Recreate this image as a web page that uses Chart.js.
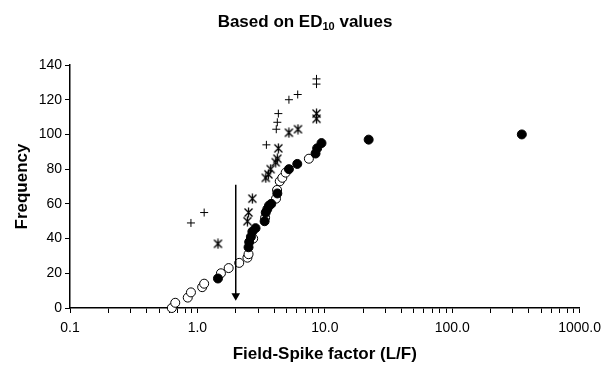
<!DOCTYPE html>
<html>
<head>
<meta charset="utf-8">
<script src="https://cdn.jsdelivr.net/npm/chart.js@4"></script>
<style>
  html, body { margin: 0; padding: 0; background: #fff; }
  #wrap { width: 608px; height: 365px; position: relative; }
</style>
</head>
<body>
<div id="wrap"><canvas id="myChart" width="608" height="365"></canvas></div>
<script>
// open circles
const openX = [0.63, 0.67, 0.84, 0.89, 1.09, 1.13, 1.53, 1.76, 2.13, 2.47, 2.52, 2.74, 3.40, 4.14, 4.22, 4.43, 4.64, 4.93, 7.5];
const openY = [0, 3, 6, 9, 12, 14, 20, 23, 26, 29, 31, 40, 52, 63, 68, 73, 75, 78, 86];
// filled circles
const filledX = [1.45, 2.52, 2.55, 2.63, 2.70, 2.86, 3.37, 3.44, 3.54, 3.65, 3.80, 4.24, 5.23, 6.08, 8.46, 8.71, 9.42, 22.1, 352];
const filledY = [17, 35, 38, 41, 44, 46, 50, 55, 57, 59, 60, 66, 80, 83, 89, 92, 95, 97, 100];
// plus markers
const plusX = [0.89, 1.13, 3.48, 4.16, 4.24, 4.32, 5.23, 6.13, 8.61, 8.61];
const plusY = [49, 55, 94, 103, 107, 112, 120, 123, 129, 132];
// star markers
const starX = [1.45, 2.47, 2.52, 2.70, 3.44, 3.61, 3.76, 4.12, 4.24, 4.32, 5.23, 6.16, 8.61, 8.61];
const starY = [37, 50, 55, 63, 75, 77, 80, 84, 86, 92, 101, 103, 109, 112];
// arrow at factor 2
const arrowX = [2, 2];
const arrowY = [71, 7];

const yTicks = [0, 20, 40, 60, 80, 100, 120, 140];

const FONT = "'Liberation Sans', Arial, sans-serif";

function toPoints(xs, ys) {
    return xs.map((x, i) => ({ x: x, y: ys[i] }));
}

// excel-like star: an X with a vertical bar
function makeStar() {
    const c = document.createElement("canvas");
    c.width = 11; c.height = 11;
    const g = c.getContext("2d");
    g.strokeStyle = "#000";
    g.lineWidth = 1.3;
    g.beginPath();
    g.moveTo(1.5, 1.5); g.lineTo(9.5, 9.5);
    g.moveTo(9.5, 1.5); g.lineTo(1.5, 9.5);
    g.moveTo(5.5, 0.5); g.lineTo(5.5, 10.5);
    g.stroke();
    return c;
}

const titlePlugin = {
    id: "subTitle",
    afterDraw(chart) {
        const ctx = chart.ctx;
        ctx.save();
        ctx.fillStyle = "#000";
        ctx.textBaseline = "alphabetic";
        const big = "bold 17px " + FONT;
        const small = "bold 11px " + FONT;
        ctx.font = big;
        const w1 = ctx.measureText("Based on ED").width;
        const w3 = ctx.measureText(" values").width;
        ctx.font = small;
        const w2 = ctx.measureText("10").width;
        let x = 305 - (w1 + w2 + w3) / 2;
        const y = 27;
        ctx.font = big;
        ctx.fillText("Based on ED", x, y);
        x += w1;
        ctx.font = small;
        ctx.fillText("10", x, y + 3);
        x += w2;
        ctx.font = big;
        ctx.fillText(" values", x, y);
        ctx.restore();
    }
};

const ctx = document.getElementById("myChart");
let chart = new Chart(ctx, {
    type: "scatter",
    data: {
        datasets: [
            {
                label: "arrow",
                type: "line",
                data: toPoints(arrowX, arrowY),
                borderColor: "#000",
                backgroundColor: "#000",
                borderWidth: 1.5,
                pointRadius: [0, 5],
                pointStyle: "triangle",
                pointRotation: 180,
                pointBorderWidth: 0,
                clip: false
            },
            {
                label: "plus",
                data: toPoints(plusX, plusY),
                pointStyle: "cross",
                pointRadius: 4,
                borderColor: "#000",
                borderWidth: 1,
                clip: false
            },
            {
                label: "star",
                data: toPoints(starX, starY),
                pointStyle: makeStar(),
                pointRadius: 5,
                clip: false
            },
            {
                label: "filled",
                data: toPoints(filledX, filledY),
                pointStyle: "circle",
                pointRadius: 4.5,
                backgroundColor: "#000",
                borderColor: "#000",
                borderWidth: 1,
                clip: false
            },
            {
                label: "open",
                data: toPoints(openX, openY),
                pointStyle: "circle",
                pointRadius: 4.5,
                backgroundColor: "#fff",
                borderColor: "#000",
                borderWidth: 1,
                clip: false
            }
        ]
    },
    options: {
        responsive: false,
        animation: false,
        devicePixelRatio: 1,
        layout: { padding: { left: 0, right: 26, top: 65, bottom: 0 } },
        plugins: {
            legend: { display: false },
            tooltip: { enabled: false },
            title: { display: false }
        },
        scales: {
            x: {
                type: "logarithmic",
                min: 0.1,
                max: 1000,
                afterBuildTicks: (scale) => {
                    const t = [];
                    for (let p = -1; p <= 3; p++) {
                        for (let m = 1; m <= 9; m++) {
                            const v = m * Math.pow(10, p);
                            if (v <= 1000.0001) t.push({ value: v });
                        }
                    }
                    scale.ticks = t;
                },
                afterFit: (scale) => { scale.height = 57; },
                ticks: {
                    autoSkip: false,
                    maxRotation: 0,
                    padding: 7,
                    color: "#000",
                    font: { family: FONT, size: 14 },
                    callback: (v) => {
                        const l = Math.log10(v);
                        return Math.abs(l - Math.round(l)) < 1e-9 ? Number(v).toFixed(1) : "";
                    }
                },
                grid: {
                    drawOnChartArea: false,
                    drawTicks: true,
                    tickLength: 5,
                    color: "#000",
                    lineWidth: 1
                },
                border: { display: true, color: "#000", width: 1.5 },
                title: {
                    display: true,
                    text: "Field-Spike factor (L/F)",
                    color: "#000",
                    font: { family: FONT, size: 17, weight: "bold" },
                    padding: { top: 0, bottom: 0 }
                }
            },
            y: {
                min: 0,
                max: 140,
                afterBuildTicks: (scale) => {
                    scale.ticks = yTicks.map((v) => ({ value: v }));
                },
                afterFit: (scale) => { scale.width = 70; },
                ticks: {
                    padding: 3,
                    color: "#000",
                    font: { family: FONT, size: 14 }
                },
                grid: {
                    drawOnChartArea: false,
                    drawTicks: true,
                    tickLength: 5,
                    color: "#000",
                    lineWidth: 1
                },
                border: { display: true, color: "#000", width: 1.5 },
                title: {
                    display: true,
                    text: "Frequency",
                    color: "#000",
                    font: { family: FONT, size: 17, weight: "bold" },
                    padding: { top: 12, bottom: 0 }
                }
            }
        }
    },
    plugins: [titlePlugin]
});
</script>
</body>
</html>
